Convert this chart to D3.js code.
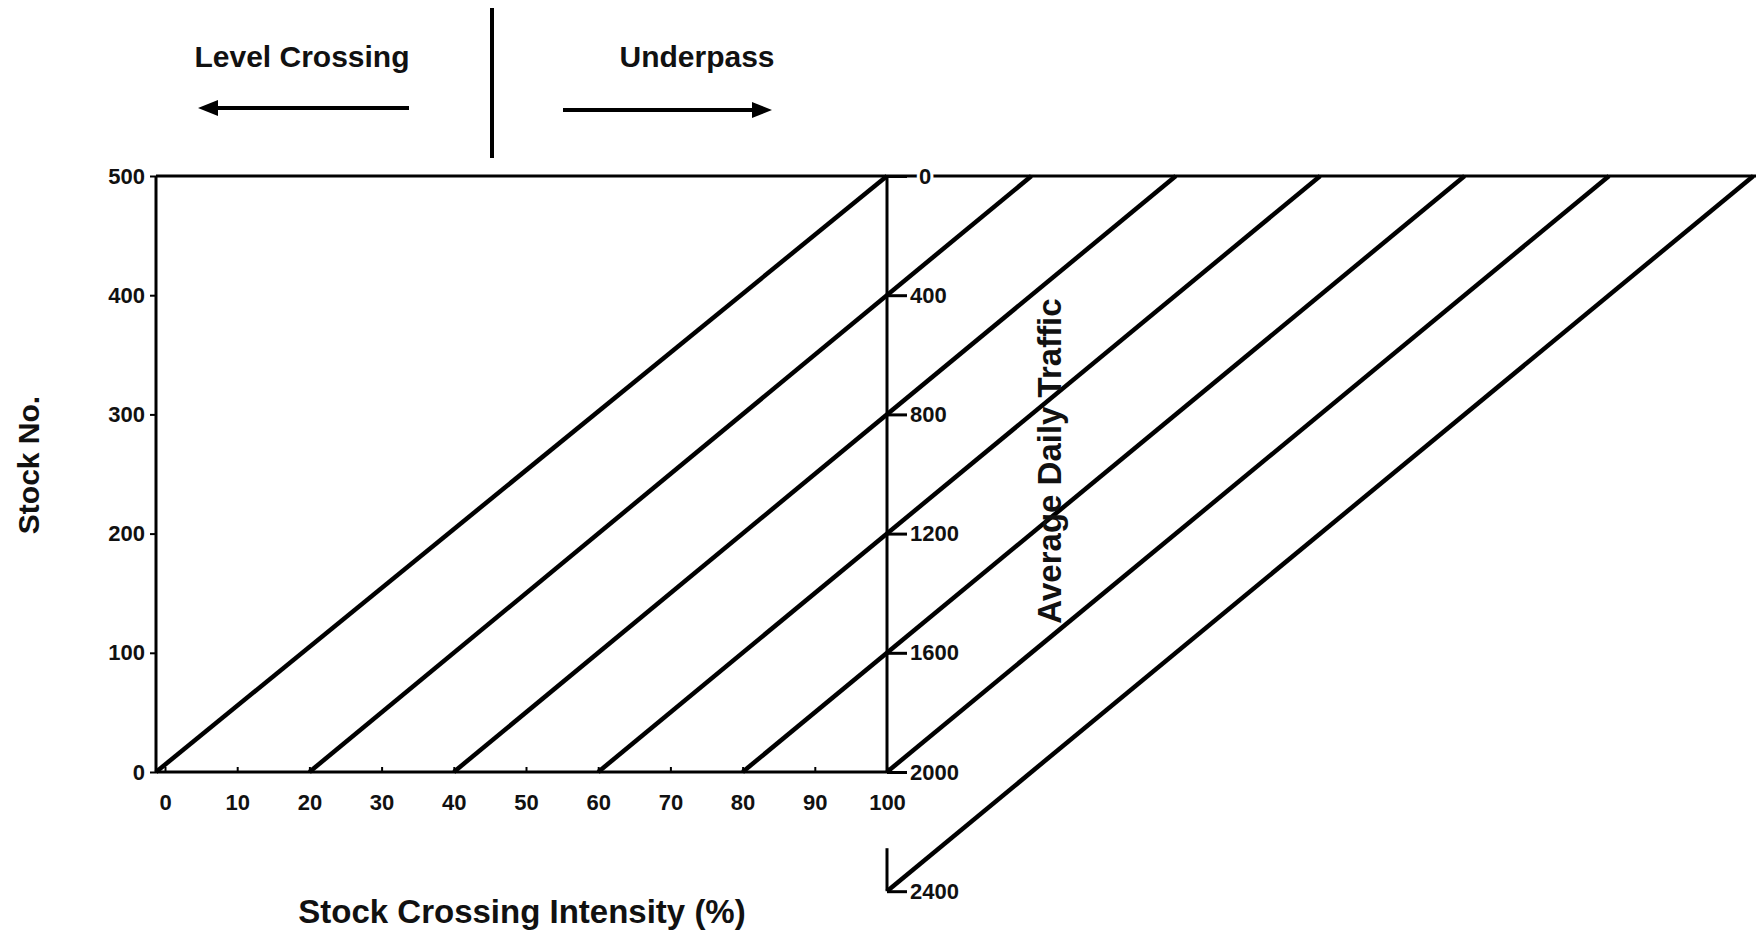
<!DOCTYPE html>
<html>
<head>
<meta charset="utf-8">
<script src="https://cdn.jsdelivr.net/npm/d3@7"></script>
<style>
  body { margin: 0; background: #fff; }
  text { font-family: "Liberation Sans", Arial, sans-serif; font-weight: bold; fill: #111; }
</style>
</head>
<body>
<svg id="chart" width="1756" height="933"></svg>
<script>
// data
const intensityTicks = [0, 10, 20, 30, 40, 50, 60, 70, 80, 90, 100]
const stockTicks = [0, 100, 200, 300, 400, 500]
const adtTicks = [0, 400, 800, 1200, 1600, 2000, 2400]

// one diagonal per ADT value, endpoints in (intensity %, stock no.)
const lineAdt = [0, 400, 800, 1200, 1600, 2000, 2400]
const lineStartX = [0, 20, 40, 60, 80, 100, 100]
const lineStartY = [0, 0, 0, 0, 0, 0, -100]
const lineEndX = [100, 120, 140, 160, 180, 200, 220]
const lineEndY = [500, 500, 500, 500, 500, 500, 500]

const svg = d3.select("#chart")
svg.append("rect").attr("width", 1756).attr("height", 933).attr("fill", "#fff")

const x = d3.scaleLinear().domain([0, 100]).range([165, 887])
const y = d3.scaleLinear().domain([0, 500]).range([772, 176])
const frameLeft = 156
// right axis: 0 at top of panel, 2000 at the bottom, 2400 hangs below
const r = d3.scaleLinear().domain([0, 2400]).range([y(500), y(-100)])

// diagonals
const lines = lineAdt.map((v, i) => ({
  adt: v, x0: lineStartX[i], y0: lineStartY[i], x1: lineEndX[i], y1: lineEndY[i]
}))
svg.selectAll(".diag")
  .data(lines)
  .join("line")
  .attr("class", "diag")
  .attr("x1", d => d.x0 === 0 ? frameLeft : x(d.x0))
  .attr("y1", d => y(d.y0))
  .attr("x2", d => x(d.x1))
  .attr("y2", d => y(d.y1))
  .attr("stroke", "#000")
  .attr("stroke-width", 4.5)

// frame
const frame = svg.append("g").attr("stroke", "#000").attr("stroke-width", 3)
frame.append("line").attr("x1", frameLeft).attr("x2", 1756).attr("y1", y(500)).attr("y2", y(500))
frame.append("line").attr("x1", frameLeft).attr("x2", frameLeft).attr("y1", y(500)).attr("y2", y(0))
frame.append("line").attr("x1", frameLeft).attr("x2", x(100)).attr("y1", y(0)).attr("y2", y(0))
frame.append("line").attr("x1", x(100)).attr("x2", x(100)).attr("y1", r(0)).attr("y2", r(2000))
frame.append("line").attr("x1", x(100)).attr("x2", x(100)).attr("y1", r(2400) - 43).attr("y2", r(2400))

const fmt = d3.format("d")

// left axis
const yAxis = svg.append("g")
  .attr("transform", `translate(${frameLeft},0)`)
  .call(d3.axisLeft(y).tickValues(stockTicks).tickFormat(fmt).tickSize(6).tickPadding(5))
yAxis.select(".domain").remove()
yAxis.selectAll("line").attr("stroke", "#000").attr("stroke-width", 2)
yAxis.selectAll("text").style("font-size", "22px").attr("fill", "#111")

// bottom axis, small ticks pointing inward
const xAxis = svg.append("g")
  .attr("transform", `translate(0,${y(0)})`)
  .call(d3.axisBottom(x).tickValues(intensityTicks).tickFormat(fmt).tickSize(-5).tickPadding(22))
xAxis.select(".domain").remove()
xAxis.selectAll("line").attr("stroke", "#000").attr("stroke-width", 2)
xAxis.selectAll("text").style("font-size", "22px").attr("fill", "#111")

// right axis (Average Daily Traffic)
const rAxis = svg.append("g")
  .attr("transform", `translate(${x(100)},0)`)
  .call(d3.axisRight(r).tickValues(adtTicks).tickFormat(fmt).tickSize(20).tickPadding(3))
rAxis.select(".domain").remove()
rAxis.selectAll("line").attr("stroke", "#000").attr("stroke-width", 3)
rAxis.selectAll("text").style("font-size", "22px").attr("fill", "#111")
  .attr("stroke", "#fff").attr("stroke-width", 6).style("paint-order", "stroke")
rAxis.selectAll(".tick").filter(d => d === 0).select("text").attr("x", 32)

// axis titles
svg.append("text")
  .attr("transform", `translate(39,465) rotate(-90)`)
  .attr("text-anchor", "middle")
  .style("font-size", "30px")
  .text("Stock No.")

svg.append("text")
  .attr("x", 522).attr("y", 923)
  .attr("text-anchor", "middle")
  .style("font-size", "33px")
  .text("Stock Crossing Intensity (%)")

svg.append("text")
  .attr("transform", `translate(1061,461) rotate(-90)`)
  .attr("text-anchor", "middle")
  .style("font-size", "33px")
  .text("Average Daily Traffic")

// header: level crossing | underpass
svg.append("text").attr("x", 302).attr("y", 67).attr("text-anchor", "middle")
  .style("font-size", "30px").text("Level Crossing")
svg.append("text").attr("x", 697).attr("y", 67).attr("text-anchor", "middle")
  .style("font-size", "30px").text("Underpass")

svg.append("line").attr("x1", 492).attr("x2", 492).attr("y1", 8).attr("y2", 158)
  .attr("stroke", "#000").attr("stroke-width", 4)

const arrow = (xFrom, xTo, yy) => {
  const dir = Math.sign(xTo - xFrom)
  svg.append("line").attr("x1", xFrom).attr("x2", xTo - dir * 14).attr("y1", yy).attr("y2", yy)
    .attr("stroke", "#000").attr("stroke-width", 4)
  svg.append("path")
    .attr("d", `M${xTo},${yy} L${xTo - dir * 20},${yy - 8} L${xTo - dir * 20},${yy + 8} Z`)
    .attr("fill", "#000")
}
arrow(409, 198, 108)
arrow(563, 772, 110)
</script>
</body>
</html>
